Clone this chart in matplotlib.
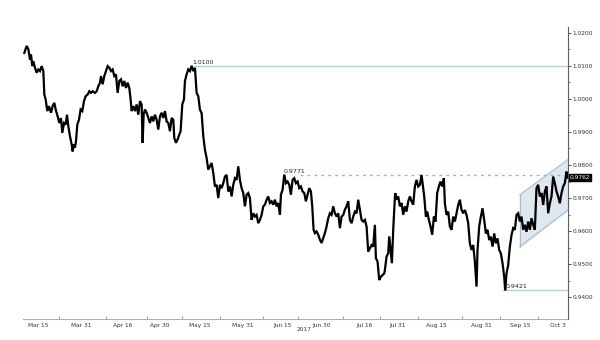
import matplotlib
matplotlib.use("Agg")
import matplotlib.pyplot as plt
import numpy as np

# session index (arbitrary bar units) and price
t1 = [73,80,85,90,93,97,100,105,110,115,120,125,130,133,137,142,147,153,158,163,167,173,178,183,187,192,197,201,205,210,
      215,218,221,225,228,232,237,242,247,252,257,263,268,273,278,285,290,295,300,303,308,313,318,323,328,333,338,343,348,353,
      358,363,368,373,378,383,388,392,395,400,405,410,415,420,425,428,431,435,440,445,450,455,460,465,470,475,480,485,490,495,
      500,505,510,515,520,523,528,533,538,542,547,552,555,560,565,570,575,580,585]
p1 = [1.0139,1.0160,1.0150,1.0119,1.0134,1.0099,1.0114,1.0094,1.0079,1.0089,1.0084,1.0099,1.0084,1.0013,0.9998,0.9963,0.9978,0.9958,0.9978,0.9988,
      0.9968,0.9947,0.9927,0.9942,0.9897,0.9927,0.9922,0.9952,0.9917,0.9887,0.9862,0.9841,0.9862,0.9852,0.9872,0.9922,0.9937,0.9968,0.9963,0.9993,
      1.0008,1.0013,1.0023,1.0018,1.0023,1.0018,1.0023,1.0038,1.0049,1.0069,1.0044,1.0069,1.0084,1.0099,1.0094,1.0084,1.0089,1.0069,1.0074,1.0018,
      1.0054,1.0059,1.0038,1.0054,1.0033,1.0049,1.0033,0.9998,0.9963,0.9978,0.9963,0.9983,0.9952,0.9993,0.9983,0.9867,0.9952,0.9968,0.9958,0.9942,
      0.9927,0.9947,0.9932,0.9952,0.9937,0.9907,0.9947,0.9958,0.9942,0.9963,0.9932,0.9927,0.9902,0.9942,0.9937,0.9882,0.9867,0.9877,0.9892,0.9902,
      0.9983,0.9998,1.0054,1.0074,1.0089,1.0084,1.0100,1.0084,1.0094]
t2 = [590,595,600,605,610,615,620,625,630,635,640,645,650,655,660,665,670,675,680,685,690,695,700,705,710,715,720,725,730,735,
      740,745,750,755,760,765,770,775,780,785,790,795,800,805,810,815,820,825,830,835,840,843,848,853,858,863,868,873,878,883,
      888,893,898,903,908,913,918,923,928,933,937,941,945,950,955,960,965,970,975,980,985,990,995,1000,1005,1010,1015,1020,1025,1030,
      1035,1040,1045,1050,1055,1060,1065,1070,1075,1080,1085,1090,1095,1100,1105,1110,1115,1120,1125,1128,1133,1138,1143,1148,1153]
p2 = [1.0018,1.0008,0.9967,0.9957,0.9887,0.9846,0.9821,0.9786,0.9796,0.9806,0.9776,0.9735,0.9740,0.9700,0.9740,0.9730,0.9745,0.9765,0.9770,0.9720,
      0.9735,0.9705,0.9740,0.9760,0.9755,0.9796,0.9755,0.9730,0.9715,0.9675,0.9710,0.9715,0.9700,0.9634,0.9654,0.9644,0.9649,0.9624,0.9634,0.9649,
      0.9675,0.9680,0.9695,0.9705,0.9685,0.9690,0.9680,0.9695,0.9675,0.9685,0.9649,0.9710,0.9725,0.9771,0.9745,0.9750,0.9740,0.9710,0.9755,0.9760,
      0.9745,0.9750,0.9730,0.9735,0.9720,0.9715,0.9690,0.9710,0.9730,0.9720,0.9675,0.9604,0.9594,0.9599,0.9589,0.9574,0.9564,0.9579,0.9594,0.9614,
      0.9639,0.9654,0.9649,0.9675,0.9654,0.9644,0.9654,0.9609,0.9644,0.9649,0.9665,0.9675,0.9690,0.9634,0.9624,0.9644,0.9659,0.9654,0.9695,0.9665,
      0.9634,0.9629,0.9634,0.9614,0.9538,0.9548,0.9558,0.9553,0.9619,0.9518,0.9508,0.9452,0.9462,0.9467,0.9472]
t3 = [1155,1160,1165,1168,1172,1176,1180,1183,1186,1190,1195,1200,1205,1210,1215,1220,1225,1230,1235,1240,1245,1250,1255,1260,1265,1270,1273,1278,1282,1287,
      1292,1297,1302,1307,1312,1317,1322,1327,1332,1335,1340,1345,1350,1355,1360,1365,1370,1375,1380,1385,1390,1395,1400,1405,1410,1415,1420,1425,1430,1433,
      1438,1443,1448,1453,1458,1463,1468,1473,1478,1483,1488,1493,1498,1503,1508,1513,1516,1520,1525,1530,1535,1540,1545,1550,1555,1560,1565,1570,1575,1580,
      1585,1590,1595,1600,1605,1610,1615,1620,1625,1630,1635,1640,1645,1650,1655,1660,1665,1670,1675,1680,1685,1690,1695,1700,1702]
p3 = [0.9482,0.9523,0.9533,0.9584,0.9543,0.9503,0.9604,0.9664,0.9715,0.9695,0.9705,0.9675,0.9685,0.9649,0.9675,0.9659,0.9690,0.9705,0.9690,0.9680,
      0.9735,0.9755,0.9735,0.9740,0.9770,0.9730,0.9705,0.9644,0.9659,0.9634,0.9614,0.9589,0.9644,0.9629,0.9715,0.9735,0.9750,0.9735,0.9760,0.9684,
      0.9649,0.9659,0.9614,0.9604,0.9644,0.9629,0.9654,0.9679,0.9695,0.9664,0.9654,0.9664,0.9649,0.9624,0.9563,0.9543,0.9558,0.9508,0.9432,0.9543,
      0.9614,0.9644,0.9669,0.9634,0.9593,0.9604,0.9573,0.9583,0.9553,0.9593,0.9563,0.9578,0.9543,0.9533,0.9503,0.9462,0.9421,0.9472,0.9497,0.9553,
      0.9588,0.9609,0.9604,0.9649,0.9654,0.9629,0.9644,0.9604,0.9619,0.9598,0.9629,0.9604,0.9639,0.9619,0.9604,0.9730,0.9740,0.9705,0.9715,0.9679,
      0.9720,0.9735,0.9654,0.9684,0.9705,0.9765,0.9745,0.9720,0.9705,0.9684,0.9715,0.9735,0.9745,0.9780,0.9762]

tick_pos = [115, 245, 368, 478, 598, 727, 847, 965, 1092, 1192, 1310, 1445, 1560, 1675]
tick_labels = ["Mar 15", "Mar 31", "Apr 16", "Apr 30", "May 15", "May 31", "Jun 15",
               "Jun 30", "Jul 16", "Jul 31", "Aug 15", "Aug 31", "Sep 15", "Oct 3"]
minor_pos = [177, 318, 441, 546, 660, 789, 894, 1029, 1140, 1254, 1386, 1500, 1614]

levels = [1.0100, 0.9771, 0.9421]
level_start = [585, 900, 1510]
level_labels = ["1.0100", "0.9771", "0.9421"]
level_label_x = [578, 850, 1516]

channel_t = [1560, 1704]
channel_top = [0.9710, 0.9816]
channel_bot = [0.9553, 0.9664]

last_value = 0.9762

t = t1 + t2 + t3
p = p1 + p2 + p3

fig = plt.figure(figsize=(6, 3.4), dpi=100)
ax = fig.add_axes([23/600, 1-319/340, (567.5-23)/600, (319-27)/340])
ax.set_xlim(69, 1703)
ax.set_ylim(0.93342, 1.02173)

# channel
ax.fill_between(channel_t, channel_bot, channel_top, color="#dfe8ef", zorder=1)
ax.plot(channel_t, channel_top, color="#a9bccb", lw=0.8, zorder=2)
ax.plot(channel_t, channel_bot, color="#a9bccb", lw=0.8, zorder=2)
ax.plot([channel_t[0]]*2, [channel_bot[0], channel_top[0]], color="#a9bccb", lw=0.8, zorder=2)

# levels
ax.plot([level_start[0], 1703], [levels[0]]*2, color="#a6dcc4", lw=1.0, zorder=2)
ax.plot([level_start[1], 1703], [levels[1]]*2, color="#7fc3b8", lw=1.0, ls=(0, (2, 3)), zorder=2)
ax.plot([level_start[2], 1703], [levels[2]]*2, color="#a6dcc4", lw=1.0, zorder=2)
for x, y, s in zip(level_label_x, levels, level_labels):
    ax.text(x, y + 0.0003, s, fontsize=4.5, ha="left", va="bottom", color="#222222", zorder=4)

ax.plot(t, p, color="black", lw=1.6, zorder=3, solid_joinstyle="miter")

# axes styling
for s in ["left", "top"]:
    ax.spines[s].set_visible(False)
ax.spines["bottom"].set_color("#b0b0b0")
ax.spines["right"].set_color("#606060")
ax.spines["bottom"].set_linewidth(0.8)
ax.spines["right"].set_linewidth(0.8)

ax.yaxis.tick_right()
yt = [0.94, 0.95, 0.96, 0.97, 0.98, 0.99, 1.00, 1.01, 1.02]
ax.set_yticks(yt)
ax.set_yticklabels([f"{v:.4f}" for v in yt])
ax.set_yticks([v + 0.005 for v in yt[:-1]], minor=True)
ax.tick_params(axis="y", which="major", length=2.5, width=0.6, labelsize=4.2, pad=1, colors="#333333")
ax.tick_params(axis="y", which="minor", length=1.5, width=0.5, colors="#333333")

ax.set_xticks(tick_pos)
ax.set_xticklabels(tick_labels)
ax.set_xticks(minor_pos, minor=True)
ax.tick_params(axis="x", which="major", length=0, labelsize=4.2, pad=3, colors="#333333")
ax.tick_params(axis="x", which="minor", direction="in", length=2, width=0.6, colors="#888888")

ax.text(890, 0.93342 - 0.0025, "2017", fontsize=4.2, ha="left", va="top", color="#333333")

# last value tag
ax.text(1.004, last_value, f"{last_value:.4f}", transform=ax.get_yaxis_transform(),
        fontsize=4.2, color="white", ha="left", va="center",
        bbox=dict(boxstyle="square,pad=0.15", fc="black", ec="black"), zorder=5, clip_on=False)

fig.savefig("out.png", dpi=100)
